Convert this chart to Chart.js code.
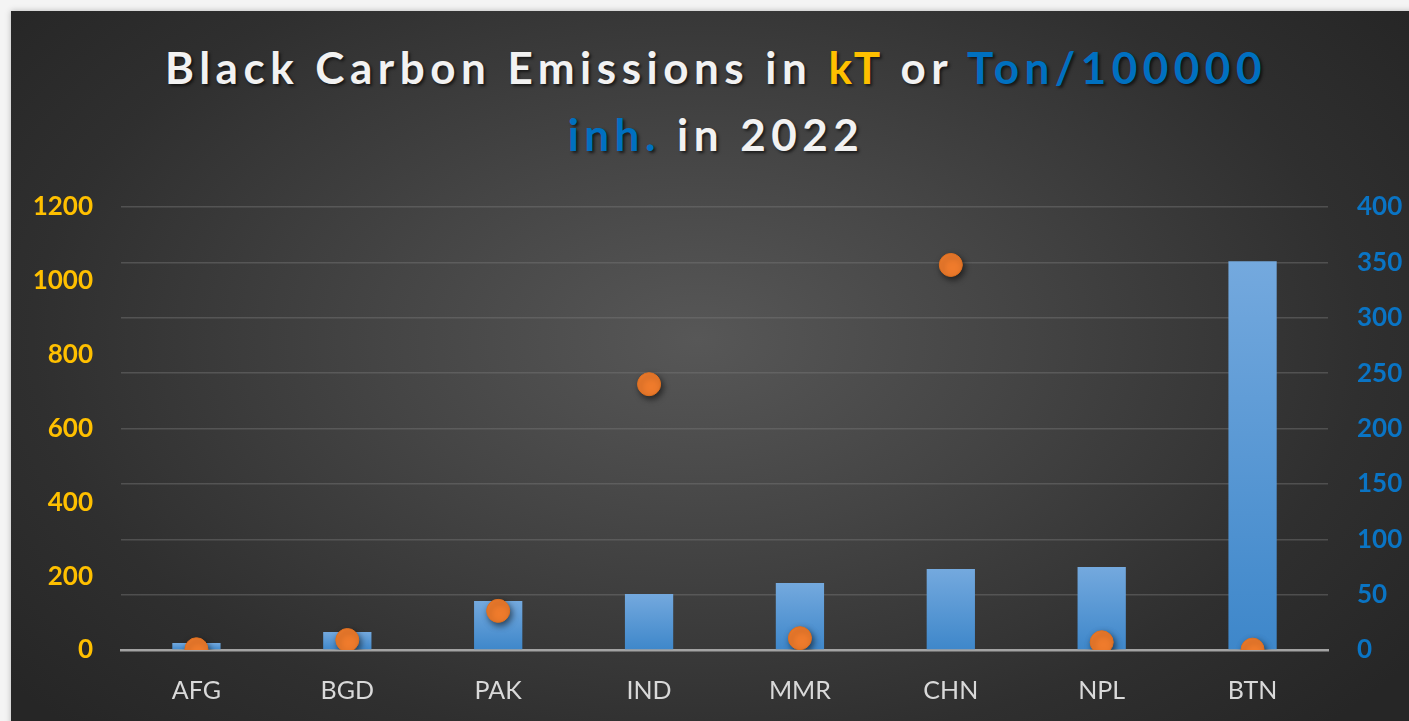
<!DOCTYPE html>
<html>
<head>
<meta charset="utf-8">
<script src="https://cdn.jsdelivr.net/npm/chart.js@4/dist/chart.umd.min.js"></script>
<style>
  html, body { margin:0; padding:0; background:#f4f4f4; overflow:hidden; }
  #panel {
    position:absolute; left:11px; top:11px; width:1430px; height:730px;
    background: radial-gradient(ellipse 62% 75% at 48% 45%, #575757 0%, #454545 35%, #2f2f2f 75%, #262626 100%);
    box-shadow: 0 0 6px rgba(0,0,0,0.25);
  }
  #title {
    position:absolute; left:0; top:34px; width:1432px; text-align:center;
    font-family: Lato, "Open Sans", sans-serif; font-weight:bold; font-size:44px;
    line-height:67px; letter-spacing:5.5px; color:#f2f2f2;
    text-shadow: 2px 2px 3px rgba(0,0,0,0.6);
  }
  .kt { color:#ffc000; }
  .pc { color:#0070c0; }
  #chart { position:absolute; left:0; top:0; }
</style>
</head>
<body>
<div id="panel"></div>
<div id="title">Black Carbon Emissions in <span class="kt">kT</span> or <span class="pc">Ton/100000</span><br><span class="pc">inh.</span> in 2022</div>
<canvas id="chart" width="1409" height="721"></canvas>
<script>
// --- data ---
const countries = ["AFG","BGD","PAK","IND","MMR","CHN","NPL","BTN"];
const tonPer100k = [6.3, 16.3, 44.2, 50.6, 60.5, 73.1, 75, 351];   // bars, right axis
const totalKt = [2, 27, 106, 720, 32, 1043, 21, 1];                  // dots, left axis
const leftTicks = {min:0, max:1200, step:200};
const rightTicks = {min:0, max:400, step:50};

const FONT = "Lato, 'Open Sans', sans-serif";

// soft shadow under the orange dots
const dotShadow = {
  id:"dotShadow",
  beforeDatasetDraw(chart, args){
    if(args.meta.type !== "line") return;
    const ctx = chart.ctx;
    ctx.save();
    ctx.shadowColor = "rgba(0,0,0,0.55)";
    ctx.shadowBlur = 6;
    ctx.shadowOffsetX = 2;
    ctx.shadowOffsetY = 3;
  },
  afterDatasetDraw(chart, args){
    if(args.meta.type !== "line") return;
    chart.ctx.restore();
  }
};

// each bar lighter on top, darker at the base
function barFill(c){
  const chart = c.chart;
  if(!chart.chartArea || c.dataIndex === undefined) return "#5b9bd5";
  const sc = chart.scales.y2;
  const top = sc.getPixelForValue(c.raw);
  const bot = sc.getPixelForValue(0);
  if(!isFinite(top) || bot - top < 1) return "#5b9bd5";
  const g = chart.ctx.createLinearGradient(0, top, 0, bot);
  g.addColorStop(0, "#74a9de");
  g.addColorStop(1, "#3e87ca");
  return g;
}

const plain = v => String(v);

new Chart(document.getElementById("chart"), {
  data:{
    labels: countries,
    datasets:[
      {
        type:"line", label:"kT", data: totalKt, yAxisID:"y", order:0,
        showLine:false, pointRadius:11.5, pointHoverRadius:11.5,
        pointBackgroundColor:"#ef7b2c", pointBorderColor:"#e0701f", pointBorderWidth:1
      },
      {
        type:"bar", label:"Ton/100000 inh.", data: tonPer100k, yAxisID:"y2", order:1,
        backgroundColor: barFill, borderWidth:0,
        categoryPercentage:1, barPercentage:0.32
      }
    ]
  },
  options:{
    responsive:false,
    animation:false,
    layout:{ padding:{ top:207, bottom:0, left:0, right:0 } },
    plugins:{ legend:{display:false}, tooltip:{enabled:false}, title:{display:false} },
    scales:{
      x:{
        grid:{ display:false, drawTicks:false },
        border:{ display:true, color:"#a3a3a3", width:2.5 },
        ticks:{ color:"#d9d9d9", padding:26, font:{ family:FONT, size:25 } },
        afterFit(s){ s.height = 71; }
      },
      y:{
        position:"left", min:leftTicks.min, max:leftTicks.max,
        grid:{ display:false, drawTicks:false },
        border:{ display:false },
        ticks:{ stepSize:leftTicks.step, callback:plain, color:"#ffc000", padding:28, font:{ family:FONT, size:26, weight:"bold" } },
        afterFit(s){ s.width = 121; }
      },
      y2:{
        position:"right", min:rightTicks.min, max:rightTicks.max,
        grid:{ color:"rgba(120,120,120,0.45)", lineWidth:1.5, drawTicks:false },
        border:{ display:false },
        ticks:{ stepSize:rightTicks.step, callback:plain, color:"#0a74c4", padding:29, font:{ family:FONT, size:26, weight:"bold" } },
        afterFit(s){ s.width = 81; }
      }
    }
  },
  plugins:[dotShadow]
});
</script>
</body>
</html>
